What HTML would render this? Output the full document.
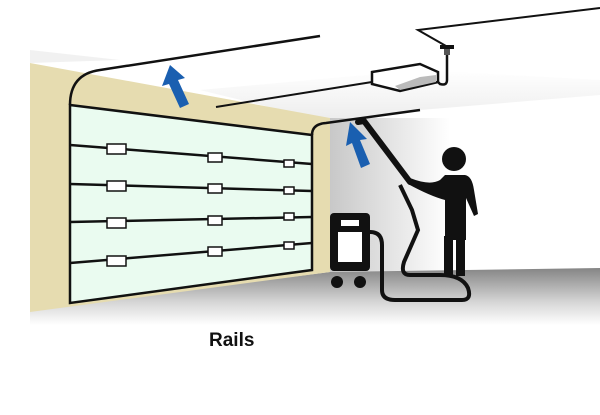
<!DOCTYPE html>
<html><head><style>
html,body{margin:0;padding:0;background:#fff;width:600px;height:415px;overflow:hidden}
</style></head><body>
<svg width="600" height="415" viewBox="0 0 600 415" xmlns="http://www.w3.org/2000/svg">
<defs>
<linearGradient id="fl" x1="0" y1="0" x2="0" y2="1">
<stop offset="0" stop-color="#858585"/><stop offset="0.6" stop-color="#d6d6d6"/><stop offset="1" stop-color="#fff"/>
</linearGradient>
<linearGradient id="wl" x1="0" y1="0" x2="1" y2="0">
<stop offset="0" stop-color="#c8c8c8"/><stop offset="1" stop-color="#fff"/>
</linearGradient>
<linearGradient id="cl" x1="0" y1="0" x2="0" y2="1">
<stop offset="0" stop-color="#fff"/><stop offset="1" stop-color="#e4e4e4"/>
</linearGradient>
</defs>
<!-- ceiling shade -->
<polygon points="200,90 420,70 600,80 600,95 420,110 330,122" fill="url(#cl)" opacity="0.7"/>
<polygon points="30,50 120,60 30,63" fill="#e8e8e8" opacity="0.6"/>
<!-- right wall -->
<rect x="330" y="118" width="120" height="155" fill="url(#wl)"/>
<!-- floor -->
<polygon points="30,310 330,272 600,268 600,325 30,325" fill="url(#fl)"/>
<!-- beige wall -->
<polygon points="30,63 330,118 330,272 30,312" fill="#e6dcb0"/>
<!-- door -->
<polygon points="70,105 312,135 312,270 70,303" fill="#eafbf0" stroke="#111" stroke-width="2.5"/>
<path d="M70,105 Q70,74 100,70 L320,36" fill="none" stroke="#111" stroke-width="2.5"/>
<path d="M312,135 Q312,124 326,123 L420,110" fill="none" stroke="#111" stroke-width="2.5"/>
<line x1="216" y1="107" x2="372" y2="82" stroke="#111" stroke-width="2"/>
<g stroke="#111" stroke-width="2.5">
<line x1="70" y1="145" x2="312" y2="164"/>
<line x1="70" y1="184" x2="312" y2="191"/>
<line x1="70" y1="222" x2="312" y2="217"/>
<line x1="70" y1="263" x2="312" y2="243"/>
</g>
<g fill="#fff" stroke="#111" stroke-width="1.5">
<rect x="107" y="144" width="19" height="10"/><rect x="208" y="153" width="14" height="9"/><rect x="284" y="160" width="10" height="7"/>
<rect x="107" y="181" width="19" height="10"/><rect x="208" y="184" width="14" height="9"/><rect x="284" y="187" width="10" height="7"/>
<rect x="107" y="218" width="19" height="10"/><rect x="208" y="216" width="14" height="9"/><rect x="284" y="213" width="10" height="7"/>
<rect x="107" y="256" width="19" height="10"/><rect x="208" y="247" width="14" height="9"/><rect x="284" y="242" width="10" height="7"/>
</g>
<!-- arrows -->
<polygon points="170,65 162,86 169,84 180,108 189,104 178,80 185,78" fill="#1a5fb0"/>
<polygon points="350,122 346,146 352,143 361,168 370,164 360,140 367,139" fill="#1a5fb0"/>
<!-- top ceiling line and opener -->
<polyline points="600,8 418,30 446,46" fill="none" stroke="#111" stroke-width="2"/>
<rect x="440" y="45" width="14" height="4" fill="#111"/>
<rect x="444" y="49" width="6" height="6" fill="#555"/>
<path d="M447,55 L447,80 Q447,86 440,84 L436,80" fill="none" stroke="#111" stroke-width="2.5"/>
<polygon points="372,72 420,64 438,72 438,82 400,91 372,84" fill="#fff" stroke="#111" stroke-width="2.5"/>
<polygon points="420,77 436,75 436,82 400,90 395,86" fill="#bbb"/>
<!-- vacuum -->
<rect x="330" y="213" width="40" height="58" rx="4" fill="#111"/>
<rect x="338" y="232" width="24" height="30" fill="#fff"/>
<rect x="341" y="220" width="18" height="6" fill="#fff"/>
<circle cx="337" cy="282" r="6" fill="#111"/>
<circle cx="360" cy="282" r="6" fill="#111"/>
<path d="M370,232 Q382,232 382,245 L382,290 Q382,300 395,300 L462,300 Q472,300 468,288 Q462,275 440,275 L410,275 Q400,275 404,262 L418,230 L412,210 L400,185" fill="none" stroke="#111" stroke-width="4"/>
<!-- pole -->
<path d="M358,122 L364,121 L410,182" fill="none" stroke="#111" stroke-width="6" stroke-linecap="round"/>
<!-- person -->
<circle cx="454" cy="159" r="12" fill="#111"/>
<path d="M445,175 L465,175 Q472,176 474,190 L478,214 L474,216 L466,198 L466,240 L445,240 L445,200 Q430,196 408,184 L410,178 Q430,186 440,180 Z" fill="#111"/>
<rect x="444" y="236" width="9" height="40" fill="#111"/>
<rect x="456" y="236" width="9" height="40" fill="#111"/>
<!-- label -->
<text x="209" y="346" font-family="Liberation Sans, sans-serif" font-weight="bold" font-size="19" fill="#111">Rails</text>
</svg>
</body></html>
